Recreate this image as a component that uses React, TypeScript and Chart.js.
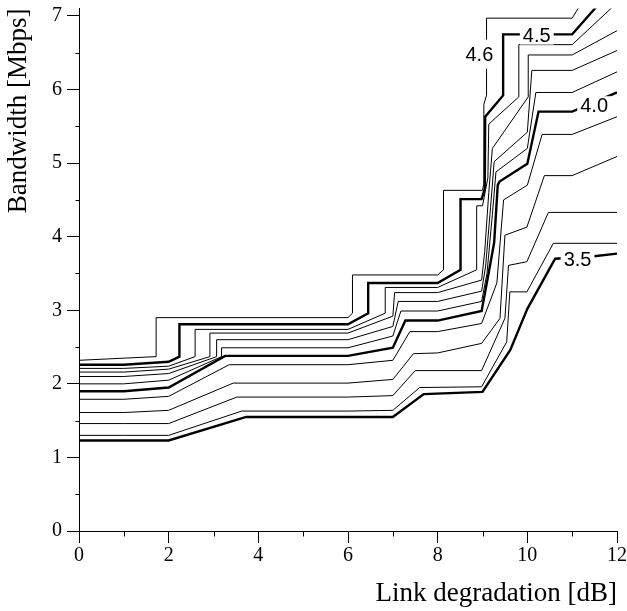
import React, { useEffect, useRef } from 'react';
import { Chart, registerables } from 'chart.js';

Chart.register(...registerables);

// Contour levels (Mbps throughput iso-lines)
const levels = ['3.5', '3.6', '3.7', '3.8', '3.9', '4.0', '4.1', '4.2', '4.3', '4.4', '4.5', '4.6'];
const thickLevels = ['3.5', '4.0', '4.5'];

// Each contour: [link degradation dB, bandwidth Mbps]
const c35 = [[0, 1.23], [1, 1.23], [2, 1.23], [3.73, 1.55], [6, 1.55], [7, 1.55], [7.69, 1.86], [9, 1.89], [9.62, 2.46], [10, 3.02], [10.62, 3.7], [11.44, 3.73], [12, 3.77]];
const c36 = [[0, 1.3], [1, 1.3], [2, 1.3], [3.63, 1.63], [6, 1.63], [7, 1.64], [7.6, 1.95], [8.98, 1.96], [9.54, 2.57], [9.61, 3.25], [9.99, 3.25], [10.58, 3.91], [12, 3.91]];
const c37 = [[0, 1.46], [1, 1.46], [2, 1.46], [3.52, 1.82], [6, 1.82], [7, 1.84], [7.5, 2.18], [8.98, 2.18], [9.5, 2.89], [9.58, 3.61], [9.99, 3.66], [10.47, 4.33], [12, 4.33]];
const c38 = [[0, 1.61], [1, 1.61], [2, 1.64], [3.44, 2.01], [6, 2.01], [7, 2.06], [7.46, 2.41], [8, 2.42], [8.98, 2.55], [9.39, 2.89], [9.5, 4.02], [9.99, 4.13], [10.38, 4.83], [11, 4.83], [12, 5.09]];
const c39 = [[0, 1.79], [1, 1.79], [2, 1.83], [3.35, 2.26], [6, 2.26], [7, 2.32], [7.38, 2.71], [8, 2.71], [8.98, 2.82], [9.32, 3.37], [9.47, 4.5], [10, 4.7], [10.33, 5.39], [11, 5.39], [12, 5.63]];
const c40 = [[0, 1.9], [1, 1.9], [2, 1.95], [3.26, 2.38], [6, 2.38], [7, 2.49], [7.28, 2.86], [8, 2.86], [8.98, 2.99], [9.12, 3.45], [9.26, 3.92], [9.34, 4.7], [9.38, 4.75], [10, 4.99], [10.25, 5.7], [11, 5.7], [12, 5.96]];
const c41 = [[0, 2.0], [1, 2.0], [2, 2.05], [3.18, 2.37], [3.18, 2.49], [6, 2.49], [7, 2.65], [7.18, 2.99], [8, 2.99], [8.98, 3.12], [9.1, 3.5], [9.22, 4.3], [9.3, 4.88], [10, 5.2], [10.19, 5.96], [11, 5.96], [12, 6.24]];
const c42 = [[0, 2.1], [1, 2.1], [2, 2.14], [3.07, 2.37], [3.07, 2.6], [6, 2.6], [7, 2.78], [7.12, 3.12], [8, 3.12], [8.98, 3.26], [9.07, 3.6], [9.18, 4.4], [9.26, 5.02], [10, 5.42], [10.1, 6.26], [11, 6.26], [12, 6.53]];
const c43 = [[0, 2.16], [1, 2.16], [2, 2.2], [2.92, 2.37], [2.92, 2.69], [6, 2.69], [7, 2.92], [7.04, 3.24], [8, 3.24], [8.98, 3.41], [9.05, 3.8], [9.14, 4.6], [9.22, 5.2], [10.02, 5.9], [10.02, 6.47], [11, 6.47], [12, 6.8]];
const c44 = [[0, 2.21], [1, 2.21], [2, 2.24], [2.59, 2.37], [2.59, 2.74], [6, 2.74], [6.83, 2.96], [6.83, 3.31], [8, 3.31], [8.87, 3.55], [8.87, 4.42], [9, 4.42], [9.12, 4.8], [9.14, 5.53], [9.81, 5.9], [9.81, 6.61], [11, 6.61], [11.88, 7.11], [12, 7.18]];
const c45 = [[0, 2.26], [1, 2.26], [2, 2.3], [2.24, 2.37], [2.24, 2.81], [6, 2.81], [6.45, 2.96], [6.45, 3.37], [8, 3.37], [8.51, 3.55], [8.51, 4.51], [8.98, 4.51], [9.05, 4.65], [9.06, 5.63], [9.46, 5.92], [9.46, 6.75], [11, 6.75], [11.52, 7.11], [11.7, 7.3]];
const c46 = [[0, 2.32], [1.72, 2.37], [1.72, 2.9], [6, 2.9], [6.1, 2.96], [6.1, 3.48], [8, 3.48], [8.13, 3.55], [8.13, 4.63], [9, 4.63], [9.03, 4.72], [9.03, 5.8], [9.09, 5.92], [9.09, 6.97], [11, 6.97], [11.14, 7.11], [11.3, 7.3]];

const contours = [c35, c36, c37, c38, c39, c40, c41, c42, c43, c44, c45, c46];

// Inline contour labels
const labelTexts = ['4.6', '4.5', '4.0', '3.5'];
const labelX = [8.93, 10.21, 11.49, 11.12];
const labelY = [6.48, 6.74, 5.78, 3.69];

// Axis ticks
const xTicks = [0, 1, 2, 3, 4, 5, 6, 7, 8, 9, 10, 11, 12];
const yTicks = [0, 0.5, 1, 1.5, 2, 2.5, 3, 3.5, 4, 4.5, 5, 5.5, 6, 6.5, 7];

const labelPadY = [7, 2, 2, 2];

const minorTicksPlugin = {
  id: 'minorTicks',
  afterDraw(chart: any) {
    const { ctx, scales } = chart;
    const xs = scales.x;
    const ys = scales.y;
    ctx.save();
    ctx.strokeStyle = '#000';
    ctx.lineWidth = 1;
    ctx.beginPath();
    const x0 = Math.round(xs.left) + 0.5;
    yTicks.forEach((v) => {
      if (!Number.isInteger(v)) {
        const py = Math.round(ys.getPixelForValue(v)) + 0.5;
        ctx.moveTo(x0 - 4, py);
        ctx.lineTo(x0, py);
      }
    });
    const y0 = Math.round(ys.bottom) + 0.5;
    xTicks.forEach((v) => {
      if (v % 2 !== 0) {
        const px = Math.round(xs.getPixelForValue(v)) + 0.5;
        ctx.moveTo(px, y0);
        ctx.lineTo(px, y0 + 5);
      }
    });
    ctx.stroke();
    ctx.restore();
  },
};

const contourLabelPlugin = {
  id: 'contourLabels',
  afterDatasetsDraw(chart: any) {
    const { ctx, scales } = chart;
    ctx.save();
    ctx.font = '20px "Liberation Sans", Arial, sans-serif';
    ctx.textAlign = 'center';
    ctx.textBaseline = 'middle';
    labelTexts.forEach((t, i) => {
      const px = scales.x.getPixelForValue(labelX[i]);
      const py = scales.y.getPixelForValue(labelY[i]);
      const w = ctx.measureText(t).width;
      const h = 15;
      ctx.fillStyle = '#fff';
      ctx.fillRect(px - w / 2 - 3, py - h / 2 - labelPadY[i], w + 6, h + 2 * labelPadY[i]);
      ctx.fillStyle = '#000';
      ctx.fillText(t, px, py + 1);
    });
    ctx.restore();
  },
};

export default function App() {
  const ref = useRef<HTMLCanvasElement>(null);

  useEffect(() => {
    const canvas = ref.current;
    if (!canvas) return;
    const datasets = contours.map((pts, i) => ({
      label: levels[i],
      data: pts.map(([x, y]) => ({ x, y })),
      showLine: true,
      borderColor: '#000',
      backgroundColor: '#000',
      borderWidth: thickLevels.includes(levels[i]) ? 2.4 : 1,
      pointRadius: 0,
      pointHoverRadius: 0,
      fill: false,
      tension: 0,
    }));

    const serif = 'Liberation Serif, "Times New Roman", serif';

    const chart = new Chart(canvas, {
      type: 'scatter',
      data: { datasets },
      options: {
        animation: false,
        responsive: false,
        maintainAspectRatio: false,
        devicePixelRatio: 1,
        layout: { padding: { left: 0, right: 10, top: 8.6, bottom: 0 } },
        plugins: {
          legend: { display: false },
          tooltip: { enabled: false },
        },
        scales: {
          x: {
            type: 'linear',
            min: 0,
            max: 12,
            afterBuildTicks: (s: any) => {
              s.ticks = xTicks.map((v) => ({ value: v }));
            },
            afterFit: (s: any) => {
              s.height = 80;
              s.paddingLeft = 0;
              s.paddingRight = 0;
            },
            grid: {
              display: true,
              drawOnChartArea: false,
              drawTicks: true,
              tickLength: 12,
              tickColor: (c: any) => (c.tick && c.tick.value % 2 === 0 ? '#000' : 'rgba(0,0,0,0)'),
              color: '#000',
              lineWidth: 1,
            },
            border: { display: true, color: '#000', width: 1 },
            ticks: {
              autoSkip: false,
              maxRotation: 0,
              minRotation: 0,
              padding: 1,
              color: '#000',
              font: { family: serif, size: 20 },
              callback: (v: any) => (Number(v) % 2 === 0 ? String(v) : ''),
            },
            title: {
              display: true,
              text: 'Link degradation [dB]',
              align: 'end',
              color: '#000',
              font: { family: serif, size: 27 },
              padding: { top: 0, bottom: 1 },
            },
          },
          y: {
            type: 'linear',
            min: 0,
            max: 7.1,
            afterBuildTicks: (s: any) => {
              s.ticks = yTicks.map((v) => ({ value: v }));
            },
            afterFit: (s: any) => {
              s.width = 79;
              s.paddingTop = 0;
              s.paddingBottom = 0;
            },
            grid: {
              display: true,
              drawOnChartArea: false,
              drawTicks: true,
              tickLength: 12,
              tickColor: (c: any) => (c.tick && Number.isInteger(c.tick.value) ? '#000' : 'rgba(0,0,0,0)'),
              color: '#000',
              lineWidth: 1,
            },
            border: { display: true, color: '#000', width: 1 },
            ticks: {
              autoSkip: false,
              padding: 5,
              color: '#000',
              font: { family: serif, size: 20 },
              callback: (v: any) => (Number.isInteger(Number(v)) ? String(v) : ''),
            },
            title: {
              display: true,
              text: 'Bandwidth [Mbps]',
              align: 'end',
              color: '#000',
              font: { family: serif, size: 27 },
              padding: { top: 3, bottom: 0 },
            },
          },
        },
      } as any,
      plugins: [minorTicksPlugin, contourLabelPlugin],
    });

    return () => chart.destroy();
  }, []);

  return (
    <div style={{ position: 'fixed', left: 0, top: 0, width: 627, height: 611, background: '#fff' }}>
      <canvas ref={ref} width={627} height={611} style={{ width: 627, height: 611, display: 'block' }} />
    </div>
  );
}
